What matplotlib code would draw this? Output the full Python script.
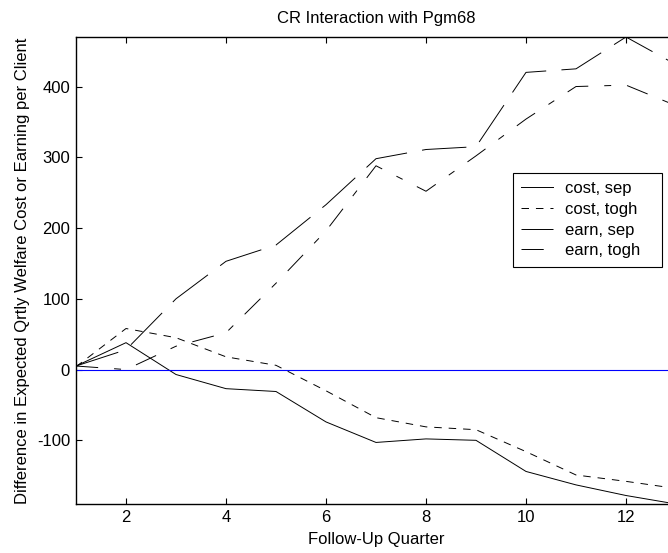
import numpy as np
import matplotlib
matplotlib.use("Agg")
import matplotlib.pyplot as plt

plt.rcParams['font.family'] = ['Liberation Sans', 'DejaVu Sans']
plt.rcParams['font.size'] = 12
plt.rcParams['lines.scale_dashes'] = False
plt.rcParams['axes.unicode_minus'] = False

# Data
quarters = np.arange(1, 14)
cost_sep = [5, 38, -7, -27, -31, -74, -103, -98, -100, -144, -163, -178, -190]
cost_togh = [4, 58, 45, 18, 6, -30, -68, -81, -85, -116, -149, -158, -168]
earn_sep = [5, 28, 100, 153, 176, 233, 298, 311, 315, 420, 425, 470, 431]
earn_togh = [5, 0, 33, 52, 122, 196, 288, 252, 302, 354, 400, 402, 373]
labels = ["cost, sep", "cost, togh", "earn, sep", "earn, togh"]

fig = plt.figure(figsize=(6.68, 5.53), dpi=100)
# axes run a little past the right edge of the figure, like the reference
ax = fig.add_axes([76 / 668, 49 / 553, 600 / 668, 467 / 553])

lw = 0.7
ax.plot(quarters, cost_sep, color='k', lw=lw, label=labels[0])
ax.plot(quarters, cost_togh, color='k', lw=lw, dashes=(5.4, 5.0), label=labels[1])
ax.plot(quarters, earn_sep, color='k', lw=lw, dashes=(32, 11), label=labels[2])
ax.plot(quarters, earn_togh, color='k', lw=lw, dashes=(16, 11.5, 5, 11.5), label=labels[3])
ax.axhline(0, color='b', lw=0.8)

all_vals = np.concatenate([cost_sep, cost_togh, earn_sep, earn_togh])
ax.set_xlim(1, 13)
ax.set_ylim(all_vals.min(), all_vals.max())
ax.set_xticks([2, 4, 6, 8, 10, 12])
ax.set_yticks([-100, 0, 100, 200, 300, 400])
ax.tick_params(direction='in', length=4.5, width=0.8, top=True, right=True,
               labelsize=12, pad=4.3)
for s in ax.spines.values():
    s.set_linewidth(1.0)

ax.set_title("CR Interaction with Pgm68", fontsize=12, pad=10)
ax.set_xlabel("Follow-Up Quarter", fontsize=12, labelpad=5)
ax.set_ylabel("Difference in Expected Qrtly Welfare Cost or Earning per Client",
              fontsize=12, labelpad=5)

leg = ax.legend(loc='upper left', bbox_to_anchor=(0.7283, 0.5075, 0.2483, 0.2013),
                mode='expand', fancybox=False, framealpha=1, edgecolor='k',
                borderaxespad=0, handlelength=1.9, handletextpad=0.72,
                borderpad=0.5, labelspacing=0.34, fontsize=12)
leg.get_frame().set_linewidth(0.8)

fig.savefig("out.png", dpi=100)
